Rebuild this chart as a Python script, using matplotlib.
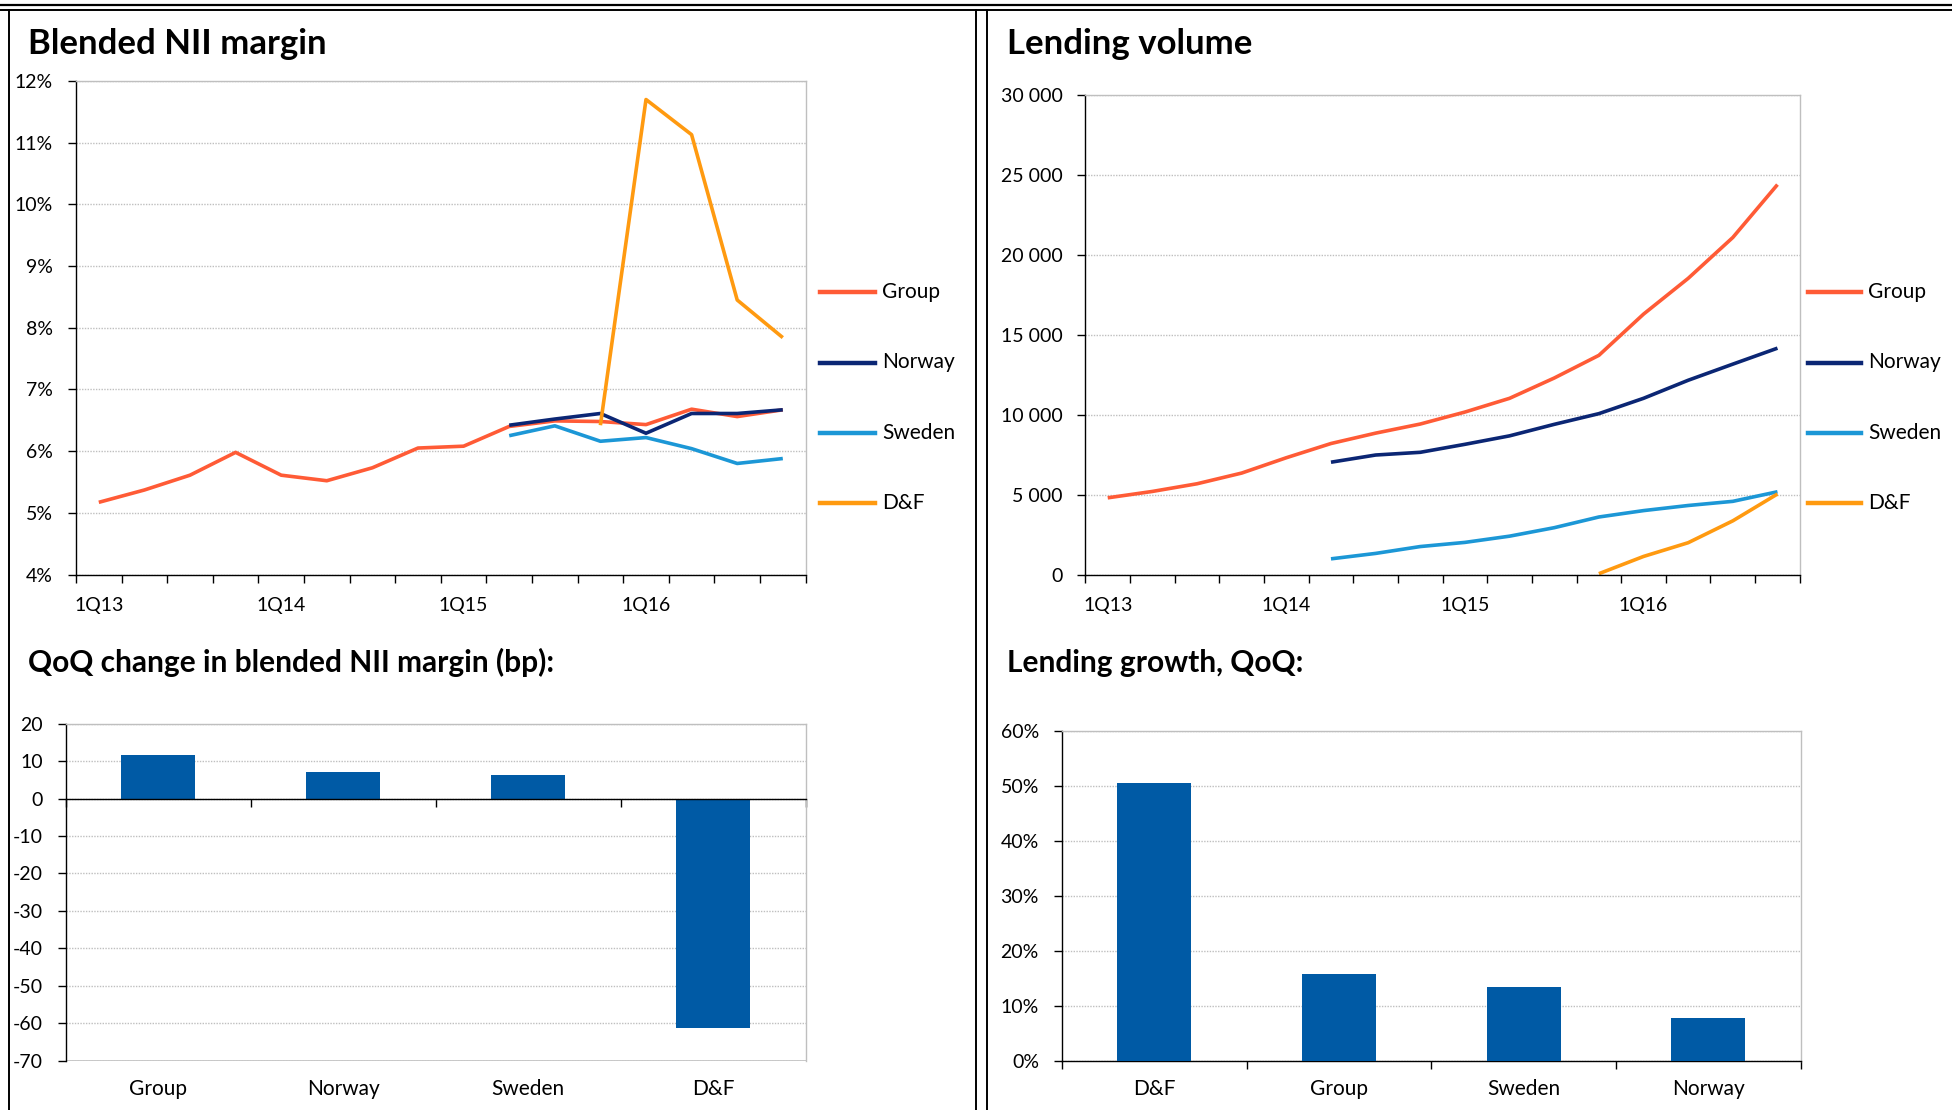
import matplotlib
matplotlib.use('Agg')
import matplotlib.pyplot as plt
import numpy as np
from matplotlib.lines import Line2D
from matplotlib.ticker import FuncFormatter

plt.rcParams['font.family'] = ['Lato', 'DejaVu Sans']
plt.rcParams['axes.unicode_minus'] = False

W, H = 1952, 1110
DPI = 100

nan = np.nan
quarters = ['1Q13', '2Q13', '3Q13', '4Q13', '1Q14', '2Q14', '3Q14', '4Q14',
            '1Q15', '2Q15', '3Q15', '4Q15', '1Q16', '2Q16', '3Q16', '4Q16']
series_names = ['Group', 'Norway', 'Sweden', 'D&F']

nii_group = [5.17, 5.37, 5.61, 5.98, 5.61, 5.52, 5.73, 6.05, 6.08, 6.40, 6.49, 6.48, 6.43, 6.68, 6.56, 6.67]
nii_norway = [nan] * 9 + [6.42, 6.52, 6.61, 6.29, 6.61, 6.61, 6.67]
nii_sweden = [nan] * 9 + [6.25, 6.41, 6.16, 6.22, 6.04, 5.80, 5.88]
nii_df = [nan] * 11 + [6.42, 11.70, 11.13, 8.45, 7.84]

vol_group = [4800, 5200, 5680, 6350, 7310, 8200, 8850, 9420, 10170, 11030, 12300, 13720, 16300, 18540, 21100, 24410]
vol_norway = [nan] * 5 + [7030, 7480, 7650, 8150, 8680, 9400, 10070, 11030, 12160, 13170, 14170]
vol_sweden = [nan] * 5 + [980, 1320, 1750, 2010, 2400, 2930, 3600, 4000, 4320, 4580, 5180]
vol_df = [nan] * 11 + [50, 1130, 1990, 3360, 5040]

qoq_cats = ['Group', 'Norway', 'Sweden', 'D&F']
qoq_bp = [11.6, 7.2, 6.2, -61.3]

growth_cats = ['D&F', 'Group', 'Sweden', 'Norway']
growth_pct = [50.5, 15.7, 13.3, 7.8]

colors = {'Group': '#FF5B36', 'Norway': '#0B2674', 'Sweden': '#1C97D6', 'D&F': '#FF9A10'}
BAR = '#005AA5'
GRID = '#BFBFBF'

TICK_FS = 14
CAT_FS = 15
TITLE_FS = 25
SUBTITLE_FS = 21.5

fig = plt.figure(figsize=(W / DPI, H / DPI), dpi=DPI)


def fx(x):
    return x / W


def fy(y):
    return 1 - y / H


def add_ax(l, r, t, b):
    return fig.add_axes([fx(l), fy(b), (r - l) / W, (b - t) / H])


def style(ax):
    for s in ['top', 'right']:
        ax.spines[s].set_color(GRID)
        ax.spines[s].set_linewidth(1)
    for s in ['left', 'bottom']:
        ax.spines[s].set_color('black')
        ax.spines[s].set_linewidth(1)
    ax.yaxis.grid(True, linestyle=(0, (1, 1)), color=GRID, linewidth=1)
    ax.set_axisbelow(True)
    ax.tick_params(axis='y', direction='out', length=6, width=1, pad=10.5,
                   labelsize=TICK_FS, colors='black')
    ax.tick_params(axis='x', direction='out', length=6, width=1, labelsize=TICK_FS)


# ---------- frames ----------
for y, lw in [(5, 1.6), (10, 1.4)]:
    fig.add_artist(Line2D([0, 1], [fy(y), fy(y)], transform=fig.transFigure, color='black', lw=lw))
for x in [8.7, 976, 987.5]:
    fig.add_artist(Line2D([fx(x), fx(x)], [fy(10), 0], transform=fig.transFigure, color='black', lw=1.4))

# ---------- titles ----------
fig.text(fx(28), fy(54), 'Blended NII margin', fontsize=TITLE_FS, fontweight='bold', va='baseline')
fig.text(fx(1007), fy(54), 'Lending volume', fontsize=TITLE_FS, fontweight='bold', va='baseline')
fig.text(fx(28), fy(672), 'QoQ change in blended NII margin (bp):', fontsize=SUBTITLE_FS, fontweight='bold', va='baseline')
fig.text(fx(1007), fy(672), 'Lending growth, QoQ:', fontsize=SUBTITLE_FS, fontweight='bold', va='baseline')

x = np.arange(len(quarters))


def line_chart(ax, data, label_y_px, ax_bottom, ax_height):
    for name, vals in zip(series_names, data):
        ax.plot(x, vals, color=colors[name], lw=2.6, solid_joinstyle='round', solid_capstyle='butt')
    ax.set_xlim(-0.5, len(quarters) - 0.5)
    ax.set_xticks(np.arange(-0.5, len(quarters), 1.0))
    ax.set_xticklabels([])
    frac = (ax_bottom - label_y_px) / ax_height
    for i in range(0, len(quarters), 4):
        ax.text(x[i], frac, quarters[i], transform=ax.get_xaxis_transform(),
                ha='center', va='center', fontsize=TICK_FS)


def legend(x0, x1, xt):
    for name, y in zip(series_names, [292, 362.5, 433, 503]):
        fig.add_artist(Line2D([fx(x0), fx(x1)], [fy(y), fy(y)], transform=fig.transFigure,
                              color=colors[name], lw=3.2))
        fig.text(fx(xt), fy(y), name, fontsize=CAT_FS, va='center', ha='left')


# ---------- chart 1 ----------
ax1 = add_ax(76, 805.6, 81, 574.5)
style(ax1)
line_chart(ax1, [nii_group, nii_norway, nii_sweden, nii_df], 605, 574.5, 574.5 - 81)
ax1.set_ylim(4, 12)
ax1.set_yticks(np.arange(4, 12.01, 1))
ax1.yaxis.set_major_formatter(FuncFormatter(lambda v, p: f'{v:.0f}%'))
legend(820, 875, 882)

# ---------- chart 2 ----------
ax2 = add_ax(1085.4, 1799.8, 95.3, 574.5)
style(ax2)
line_chart(ax2, [vol_group, vol_norway, vol_sweden, vol_df], 605, 574.5, 574.5 - 95.3)
ax2.set_ylim(0, 30000)
ax2.set_yticks(np.arange(0, 30001, 5000))
ax2.yaxis.set_major_formatter(FuncFormatter(lambda v, p: f'{int(v):,}'.replace(',', ' ')))
legend(1808, 1861, 1868)


def bar_chart(ax, cats, vals, label_y_px, ax_bottom, ax_height):
    xb = np.arange(len(cats))
    ax.bar(xb, vals, width=0.4, color=BAR, zorder=3)
    ax.set_xlim(-0.5, len(cats) - 0.5)
    ax.set_xticks(np.arange(-0.5, len(cats), 1.0))
    ax.set_xticklabels([])
    frac = (ax_bottom - label_y_px) / ax_height
    for i, c in enumerate(cats):
        ax.text(xb[i], frac, c, transform=ax.get_xaxis_transform(),
                ha='center', va='center', fontsize=CAT_FS)


# ---------- chart 3 ----------
ax3 = add_ax(65.6, 805.6, 723.7, 1060.5)
style(ax3)
bar_chart(ax3, qoq_cats, qoq_bp, 1089, 1060.5, 1060.5 - 723.7)
ax3.set_ylim(-70, 20)
ax3.set_yticks(np.arange(-70, 21, 10))
ax3.yaxis.set_major_formatter(FuncFormatter(lambda v, p: f'{v:.0f}'))
ax3.spines['bottom'].set_position(('data', 0))
ax3.spines['bottom'].set_zorder(4)
ax3.axhline(-70, color=GRID, lw=1.2, zorder=2)

# ---------- chart 4 ----------
ax4 = add_ax(1061.8, 1800.8, 731, 1060.5)
style(ax4)
bar_chart(ax4, growth_cats, growth_pct, 1089, 1060.5, 1060.5 - 731)
ax4.set_ylim(0, 60)
ax4.set_yticks(np.arange(0, 61, 10))
ax4.yaxis.set_major_formatter(FuncFormatter(lambda v, p: f'{v:.0f}%'))

fig.savefig('out.png', dpi=DPI)
